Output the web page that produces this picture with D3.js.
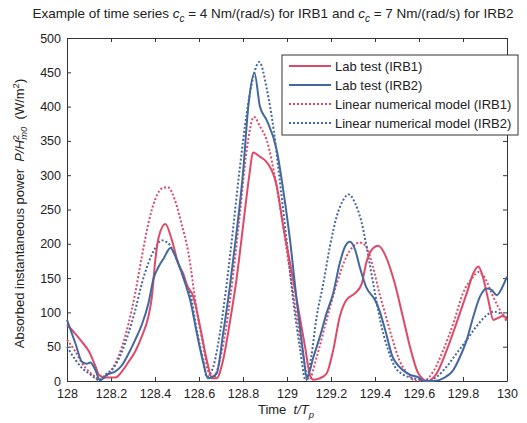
<!DOCTYPE html>
<html>
<head>
<meta charset="utf-8">
<script src="https://cdn.jsdelivr.net/npm/d3@7"></script>
<style>
  body { margin: 0; background: #fff; }
  svg { font-family: "Liberation Sans", Arial, sans-serif; }
  .tick text { font-size: 12.5px; fill: #222; }
</style>
</head>
<body>
<div id="chart"></div>
<script>
// time t/Tp, absorbed power P/Hm0^2 (W/m2)
const labIRB1 = [
  [128.0, 82], [128.04, 68], [128.068, 57], [128.1, 43], [128.13, 21], [128.145, 9], [128.17, 5],
  [128.22, 5], [128.25, 14], [128.28, 28], [128.31, 43], [128.34, 65], [128.37, 94], [128.386, 123],
  [128.4, 172], [128.417, 210], [128.447, 229], [128.477, 205], [128.507, 170], [128.53, 155],
  [128.545, 140], [128.574, 123], [128.605, 79], [128.635, 31], [128.66, 4], [128.68, 4],
  [128.71, 31], [128.74, 85], [128.77, 147], [128.8, 225], [128.83, 303], [128.845, 333],
  [128.877, 327], [128.915, 316], [128.953, 285], [128.983, 225], [129.014, 172], [129.05, 108],
  [129.082, 50], [129.105, 8], [129.12, 2], [129.15, 4], [129.18, 11], [129.21, 45], [129.24, 94],
  [129.27, 118], [129.31, 128], [129.34, 142], [129.36, 172], [129.385, 191], [129.415, 197],
  [129.45, 181], [129.49, 142], [129.53, 89], [129.567, 40], [129.597, 11], [129.64, 0],
  [129.68, 11], [129.726, 45], [129.77, 84], [129.817, 128], [129.847, 157], [129.87, 167],
  [129.89, 152], [129.915, 118], [129.938, 89], [129.96, 92], [129.983, 95], [130.0, 89]
];
const labIRB2 = [
  [128.0, 89], [128.038, 55], [128.068, 28], [128.09, 25], [128.106, 27], [128.129, 16], [128.15, 1],
  [128.18, 9], [128.22, 14], [128.25, 23], [128.28, 40], [128.31, 60], [128.34, 82], [128.37, 113],
  [128.394, 150], [128.417, 167], [128.44, 179], [128.47, 194], [128.5, 176], [128.538, 142],
  [128.56, 118], [128.59, 70], [128.62, 26], [128.64, 4], [128.68, 11], [128.71, 70], [128.74, 137],
  [128.77, 215], [128.8, 303], [128.824, 400], [128.852, 449], [128.877, 400], [128.908, 380],
  [128.953, 337], [128.983, 278], [129.014, 205], [129.044, 118], [129.074, 40], [129.09, 4],
  [129.12, 35], [129.15, 65], [129.18, 99], [129.21, 128], [129.24, 172], [129.264, 196],
  [129.286, 203], [129.31, 191], [129.33, 167], [129.36, 137], [129.4, 118], [129.42, 103],
  [129.45, 70], [129.48, 35], [129.51, 21], [129.56, 9], [129.6, 5], [129.62, 0], [129.665, 0],
  [129.71, 4], [129.756, 16], [129.786, 35], [129.817, 60], [129.847, 94], [129.877, 123],
  [129.908, 135], [129.93, 133], [129.953, 125], [129.976, 135], [130.0, 152]
];
const modelIRB1 = [
  [128.0, 60], [128.038, 43], [128.068, 26], [128.1, 14], [128.129, 6], [128.144, 2], [128.174, 6],
  [128.22, 26], [128.25, 50], [128.28, 84], [128.31, 128], [128.34, 181], [128.37, 230], [128.4, 264],
  [128.44, 282], [128.46, 282], [128.49, 264], [128.52, 230], [128.55, 190], [128.59, 103],
  [128.62, 50], [128.64, 16], [128.665, 4], [128.695, 31], [128.726, 84], [128.756, 157],
  [128.786, 244], [128.817, 337], [128.85, 385], [128.877, 371], [128.908, 351], [128.953, 283],
  [128.983, 225], [129.014, 157], [129.044, 94], [129.074, 35], [129.1, 2], [129.135, 35],
  [129.18, 89], [129.226, 142], [129.27, 181], [129.3, 196], [129.33, 202], [129.36, 196],
  [129.39, 167], [129.42, 128], [129.45, 94], [129.48, 60], [129.51, 31], [129.54, 14], [129.58, 1],
  [129.62, 0], [129.665, 14], [129.71, 45], [129.756, 84], [129.8, 128], [129.847, 152],
  [129.87, 159], [129.9, 150], [129.93, 128], [129.96, 108], [130.0, 86]
];
const modelIRB2 = [
  [128.0, 50], [128.038, 31], [128.068, 19], [128.1, 11], [128.129, 4], [128.144, 1], [128.174, 9],
  [128.22, 23], [128.25, 43], [128.28, 70], [128.31, 103], [128.34, 142], [128.37, 172], [128.4, 193],
  [128.43, 205], [128.46, 201], [128.5, 176], [128.54, 142], [128.56, 128], [128.59, 74],
  [128.62, 28], [128.635, 6], [128.665, 21], [128.695, 70], [128.726, 142], [128.756, 225],
  [128.786, 312], [128.817, 390], [128.847, 444], [128.874, 465], [128.908, 426], [128.94, 365],
  [128.968, 290], [129.0, 200], [129.03, 113], [129.06, 45], [129.085, 1], [129.11, 35],
  [129.135, 94], [129.165, 142], [129.195, 196], [129.226, 240], [129.256, 264], [129.28, 272],
  [129.31, 259], [129.34, 230], [129.37, 181], [129.4, 128], [129.43, 79], [129.46, 45],
  [129.49, 21], [129.53, 9], [129.575, 4], [129.635, 1], [129.68, 6], [129.726, 21], [129.77, 40],
  [129.817, 60], [129.86, 79], [129.908, 96], [129.938, 101], [129.967, 99], [130.0, 92]
];

const xTicks = [128, 128.2, 128.4, 128.6, 128.8, 129, 129.2, 129.4, 129.6, 129.8, 130];
const yTicks = [0, 50, 100, 150, 200, 250, 300, 350, 400, 450, 500];
const legendLabels = ["Lab test (IRB1)", "Lab test (IRB2)", "Linear numerical model (IRB1)", "Linear numerical model (IRB2)"];

const red = "#dc4a68";
const blue = "#42689f";

const width = 527, height = 423;
const margin = { top: 38, right: 20, bottom: 42, left: 67 };

const svg = d3.select("#chart").append("svg")
  .attr("width", width)
  .attr("height", height);

const x = d3.scaleLinear().domain([128, 130]).range([margin.left, width - margin.right]);
const y = d3.scaleLinear().domain([0, 500]).range([height - margin.bottom, margin.top]);

// title with italic c and subscript
const title = svg.append("text")
  .attr("x", 273).attr("y", 18)
  .attr("text-anchor", "middle")
  .style("font-size", "13.5px").style("fill", "#222");
title.append("tspan").text("Example of time series ");
title.append("tspan").style("font-style", "italic").text("c");
title.append("tspan").attr("dy", 4).style("font-size", "10px").style("font-style", "italic").text("c");
title.append("tspan").attr("dy", -4).text(" = 4 Nm/(rad/s) for IRB1 and ");
title.append("tspan").style("font-style", "italic").text("c");
title.append("tspan").attr("dy", 4).style("font-size", "10px").style("font-style", "italic").text("c");
title.append("tspan").attr("dy", -4).text(" = 7 Nm/(rad/s) for IRB2");

// axes, ticks inward on all sides
const fmtX = d => d3.format("")(+d.toFixed(1));
svg.append("g")
  .attr("transform", `translate(0,${y(0)})`)
  .call(d3.axisBottom(x).tickValues(xTicks).tickSizeInner(-4).tickSizeOuter(0).tickPadding(8).tickFormat(fmtX));
svg.append("g")
  .attr("transform", `translate(0,${y(500)})`)
  .call(d3.axisTop(x).tickValues(xTicks).tickSizeInner(-4).tickSizeOuter(0).tickFormat(""));
svg.append("g")
  .attr("transform", `translate(${x(128)},0)`)
  .call(d3.axisLeft(y).tickValues(yTicks).tickSizeInner(-4).tickSizeOuter(0).tickPadding(6));
svg.append("g")
  .attr("transform", `translate(${x(130)},0)`)
  .call(d3.axisRight(y).tickValues(yTicks).tickSizeInner(-4).tickSizeOuter(0).tickFormat(""));
svg.selectAll(".domain, .tick line").attr("stroke", "#333");

// axis labels
const xl = svg.append("text")
  .attr("x", 286).attr("y", 414)
  .attr("text-anchor", "middle")
  .style("font-size", "13px").style("fill", "#222");
xl.append("tspan").text("Time\u00a0\u00a0");
xl.append("tspan").style("font-style", "italic").text("t/T");
xl.append("tspan").attr("dy", 4).style("font-size", "9.5px").style("font-style", "italic").text("p");

const yl = svg.append("text")
  .attr("transform", `translate(24,${(y(0) + y(500)) / 2 + 4}) rotate(-90)`)
  .attr("text-anchor", "middle")
  .style("font-size", "13px").style("fill", "#222");
yl.append("tspan").text("Absorbed instantaneous power\u00a0\u00a0");
yl.append("tspan").style("font-style", "italic").text("P/H");
yl.append("tspan").attr("dy", -5).style("font-size", "9.5px").text("2");
yl.append("tspan").attr("dx", -5).attr("dy", 8).style("font-size", "9.5px").style("font-style", "italic").text("m0");
yl.append("tspan").attr("dy", -3).text("\u00a0\u00a0(W/m");
yl.append("tspan").attr("dy", -5).style("font-size", "9.5px").text("2");
yl.append("tspan").attr("dy", 5).text(")");

// lines
const line = d3.line()
  .x(d => x(d[0]))
  .y(d => y(d[1]))
  .curve(d3.curveMonotoneX);

const series = [
  { data: labIRB1, color: red, dash: null },
  { data: labIRB2, color: blue, dash: null },
  { data: modelIRB1, color: red, dash: "2,2" },
  { data: modelIRB2, color: blue, dash: "2,2" }
];

// draw dotted first, then solid on top
[2, 3, 0, 1].forEach(i => {
  const s = series[i];
  svg.append("path")
    .datum(s.data)
    .attr("fill", "none")
    .attr("stroke", s.color)
    .attr("stroke-width", 2)
    .attr("stroke-dasharray", s.dash)
    .attr("d", line);
});

// legend
const lg = svg.append("g").attr("transform", "translate(282,55)");
lg.append("rect")
  .attr("width", 236).attr("height", 80)
  .attr("fill", "#fff").attr("stroke", "#333").attr("stroke-width", 1);
series.forEach((s, i) => {
  const yy = 11 + i * 19;
  lg.append("line")
    .attr("x1", 7).attr("x2", 49).attr("y1", yy).attr("y2", yy)
    .attr("stroke", s.color).attr("stroke-width", 2)
    .attr("stroke-dasharray", s.dash);
  lg.append("text")
    .attr("x", 53).attr("y", yy + 4.5)
    .style("font-size", "13px").style("fill", "#222")
    .text(legendLabels[i]);
});
</script>
</body>
</html>
